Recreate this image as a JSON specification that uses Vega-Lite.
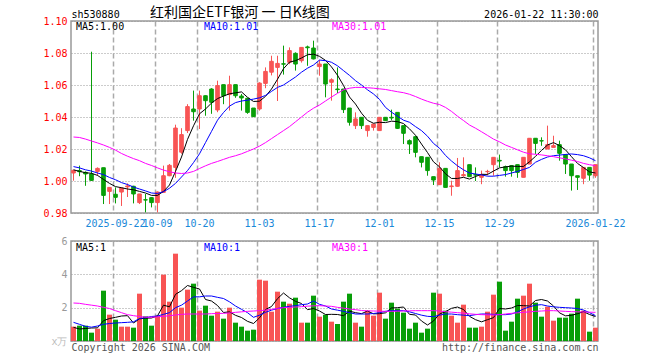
{
"$schema": "https://vega.github.io/schema/vega-lite/v6.json",
"padding": {"left": 42, "top": 5, "right": 0, "bottom": 0},
"bounds": "flush",
"spacing": 28,
"config": {
  "font": "DejaVu Sans Mono",
  "view": {"stroke": "#999999", "strokeWidth": 1.5},
  "axis": {"labelFont": "DejaVu Sans Mono", "titleFont": "DejaVu Sans Mono", "labelFontSize": 10, "titleFontSize": 10, "titleFontWeight": "normal"},
  "legend": {"labelFont": "DejaVu Sans Mono", "labelFontSize": 10}
},
"data": {"values": [
{"d":"2025-09-11","o":1.0050,"h":1.0069,"l":1.0002,"c":1.0067,"m5":1.0070,"m10":1.0090,"m30":1.0275,"v":0.86,"vm5":0.82,"vm10":1.12,"vm30":2.28},
{"d":"2025-09-12","o":1.0065,"h":1.0096,"l":1.0030,"c":1.0058,"m5":1.0060,"m10":1.0082,"m30":1.0272,"v":0.92,"vm5":0.72,"vm10":1.00,"vm30":2.26},
{"d":"2025-09-15","o":1.0054,"h":1.0060,"l":0.9970,"c":1.0044,"m5":1.0052,"m10":1.0070,"m30":1.0262,"v":0.92,"vm5":0.75,"vm10":0.88,"vm30":2.20},
{"d":"2025-09-16","o":1.0044,"h":1.0808,"l":1.0000,"c":1.0004,"m5":1.0048,"m10":1.0062,"m30":1.0250,"v":0.50,"vm5":0.78,"vm10":0.83,"vm30":2.15},
{"d":"2025-09-17","o":1.0060,"h":1.0085,"l":1.0033,"c":1.0079,"m5":1.0035,"m10":1.0050,"m30":1.0238,"v":0.74,"vm5":0.79,"vm10":0.90,"vm30":2.10},
{"d":"2025-09-18","o":1.0083,"h":1.0083,"l":0.9856,"c":0.9910,"m5":1.0010,"m10":1.0040,"m30":1.0225,"v":3.02,"vm5":1.22,"vm10":1.00,"vm30":2.02},
{"d":"2025-09-19","o":0.9935,"h":0.9962,"l":0.9856,"c":0.9960,"m5":0.9985,"m10":1.0022,"m30":1.0210,"v":1.58,"vm5":1.35,"vm10":1.05,"vm30":1.95},
{"d":"2025-09-22","o":0.9917,"h":0.9960,"l":0.9860,"c":0.9898,"m5":0.9965,"m10":1.0008,"m30":1.0193,"v":1.28,"vm5":1.42,"vm10":1.08,"vm30":1.82},
{"d":"2025-09-23","o":0.9931,"h":0.9960,"l":0.9844,"c":0.9956,"m5":0.9958,"m10":0.9990,"m30":1.0172,"v":0.86,"vm5":1.50,"vm10":1.10,"vm30":1.70},
{"d":"2025-09-24","o":0.9963,"h":0.9985,"l":0.9900,"c":0.9969,"m5":0.9950,"m10":0.9978,"m30":1.0155,"v":0.86,"vm5":1.52,"vm10":1.12,"vm30":1.58},
{"d":"2025-09-25","o":0.9967,"h":0.9970,"l":0.9860,"c":0.9919,"m5":0.9945,"m10":0.9962,"m30":1.0140,"v":0.80,"vm5":1.08,"vm10":1.15,"vm30":1.52},
{"d":"2025-09-26","o":0.9865,"h":0.9919,"l":0.9856,"c":0.9919,"m5":0.9935,"m10":0.9950,"m30":1.0127,"v":2.84,"vm5":1.33,"vm10":1.35,"vm30":1.47},
{"d":"2025-09-29","o":0.9883,"h":0.9919,"l":0.9804,"c":0.9881,"m5":0.9925,"m10":0.9938,"m30":1.0110,"v":1.48,"vm5":1.37,"vm10":1.40,"vm30":1.43},
{"d":"2025-09-30","o":0.9896,"h":0.9900,"l":0.9835,"c":0.9865,"m5":0.9910,"m10":0.9925,"m30":1.0097,"v":0.92,"vm5":1.38,"vm10":1.47,"vm30":1.43},
{"d":"2025-10-09","o":0.9865,"h":0.9935,"l":0.9804,"c":0.9931,"m5":0.9910,"m10":0.9922,"m30":1.0082,"v":1.52,"vm5":1.51,"vm10":1.50,"vm30":1.45},
{"d":"2025-10-10","o":0.9929,"h":1.0096,"l":0.9929,"c":1.0033,"m5":0.9935,"m10":0.9933,"m30":1.0068,"v":3.98,"vm5":2.15,"vm10":1.60,"vm30":1.48},
{"d":"2025-10-13","o":1.0033,"h":1.0106,"l":1.0030,"c":1.0098,"m5":0.9975,"m10":0.9955,"m30":1.0058,"v":2.36,"vm5":2.05,"vm10":1.70,"vm30":1.52},
{"d":"2025-10-14","o":1.0085,"h":1.0352,"l":1.0020,"c":1.0331,"m5":1.0060,"m10":0.9985,"m30":1.0050,"v":5.24,"vm5":2.80,"vm10":2.00,"vm30":1.56},
{"d":"2025-10-15","o":1.0180,"h":1.0330,"l":1.0170,"c":1.0290,"m5":1.0150,"m10":1.0025,"m30":1.0047,"v":2.00,"vm5":3.02,"vm10":2.15,"vm30":1.60},
{"d":"2025-10-16","o":1.0315,"h":1.0480,"l":1.0300,"c":1.0465,"m5":1.0260,"m10":1.0065,"m30":1.0050,"v":3.08,"vm5":3.33,"vm10":2.40,"vm30":1.62},
{"d":"2025-10-17","o":1.0450,"h":1.0565,"l":1.0377,"c":1.0433,"m5":1.0345,"m10":1.0115,"m30":1.0060,"v":3.44,"vm5":3.22,"vm10":2.65,"vm30":1.62},
{"d":"2025-10-20","o":1.0450,"h":1.0565,"l":1.0325,"c":1.0533,"m5":1.0420,"m10":1.0170,"m30":1.0078,"v":1.82,"vm5":3.12,"vm10":2.65,"vm30":1.62},
{"d":"2025-10-21","o":1.0533,"h":1.0535,"l":1.0408,"c":1.0502,"m5":1.0450,"m10":1.0240,"m30":1.0095,"v":2.12,"vm5":2.49,"vm10":2.70,"vm30":1.62},
{"d":"2025-10-22","o":1.0575,"h":1.0580,"l":1.0420,"c":1.0492,"m5":1.0487,"m10":1.0310,"m30":1.0110,"v":1.52,"vm5":2.40,"vm10":2.70,"vm30":1.64},
{"d":"2025-10-23","o":1.0444,"h":1.0627,"l":1.0430,"c":1.0596,"m5":1.0515,"m10":1.0380,"m30":1.0122,"v":1.76,"vm5":2.13,"vm10":2.62,"vm30":1.65},
{"d":"2025-10-24","o":1.0602,"h":1.0602,"l":1.0480,"c":1.0533,"m5":1.0531,"m10":1.0428,"m30":1.0135,"v":1.34,"vm5":1.71,"vm10":2.55,"vm30":1.66},
{"d":"2025-10-27","o":1.0540,"h":1.0658,"l":1.0440,"c":1.0602,"m5":1.0545,"m10":1.0468,"m30":1.0148,"v":2.00,"vm5":1.75,"vm10":2.35,"vm30":1.68},
{"d":"2025-10-28","o":1.0602,"h":1.0602,"l":1.0520,"c":1.0533,"m5":1.0551,"m10":1.0490,"m30":1.0158,"v":1.10,"vm5":1.54,"vm10":2.10,"vm30":1.72},
{"d":"2025-10-29","o":1.0531,"h":1.0544,"l":1.0440,"c":1.0519,"m5":1.0557,"m10":1.0500,"m30":1.0170,"v":0.86,"vm5":1.41,"vm10":1.90,"vm30":1.75},
{"d":"2025-10-30","o":1.0517,"h":1.0517,"l":1.0420,"c":1.0429,"m5":1.0523,"m10":1.0505,"m30":1.0185,"v":0.62,"vm5":1.18,"vm10":1.70,"vm30":1.78},
{"d":"2025-10-31","o":1.0456,"h":1.0456,"l":1.0400,"c":1.0402,"m5":1.0497,"m10":1.0512,"m30":1.0200,"v":0.68,"vm5":1.05,"vm10":1.42,"vm30":1.80},
{"d":"2025-11-03","o":1.0450,"h":1.0617,"l":1.0440,"c":1.0612,"m5":1.0499,"m10":1.0520,"m30":1.0218,"v":3.68,"vm5":1.39,"vm10":1.55,"vm30":1.82},
{"d":"2025-11-04","o":1.0610,"h":1.0710,"l":1.0580,"c":1.0685,"m5":1.0529,"m10":1.0535,"m30":1.0240,"v":3.62,"vm5":1.89,"vm10":1.72,"vm30":1.85},
{"d":"2025-11-05","o":1.0680,"h":1.0783,"l":1.0660,"c":1.0748,"m5":1.0575,"m10":1.0560,"m30":1.0265,"v":1.76,"vm5":2.07,"vm10":1.85,"vm30":1.90},
{"d":"2025-11-06","o":1.0710,"h":1.0783,"l":1.0500,"c":1.0735,"m5":1.0636,"m10":1.0585,"m30":1.0290,"v":2.96,"vm5":2.54,"vm10":1.95,"vm30":1.95},
{"d":"2025-11-07","o":1.0733,"h":1.0846,"l":1.0665,"c":1.0730,"m5":1.0702,"m10":1.0600,"m30":1.0315,"v":2.36,"vm5":2.88,"vm10":2.02,"vm30":2.00},
{"d":"2025-11-10","o":1.0742,"h":1.0835,"l":1.0730,"c":1.0815,"m5":1.0743,"m10":1.0625,"m30":1.0340,"v":2.24,"vm5":2.59,"vm10":2.08,"vm30":2.02},
{"d":"2025-11-11","o":1.0798,"h":1.0804,"l":1.0690,"c":1.0731,"m5":1.0752,"m10":1.0650,"m30":1.0370,"v":2.60,"vm5":2.38,"vm10":2.12,"vm30":2.04},
{"d":"2025-11-12","o":1.0752,"h":1.0835,"l":1.0740,"c":1.0835,"m5":1.0769,"m10":1.0680,"m30":1.0400,"v":1.10,"vm5":2.25,"vm10":2.18,"vm30":2.06},
{"d":"2025-11-13","o":1.0838,"h":1.0846,"l":1.0720,"c":1.0833,"m5":1.0789,"m10":1.0705,"m30":1.0430,"v":1.10,"vm5":1.88,"vm10":2.22,"vm30":2.09},
{"d":"2025-11-14","o":1.0831,"h":1.0877,"l":1.0760,"c":1.0763,"m5":1.0793,"m10":1.0725,"m30":1.0455,"v":2.72,"vm5":1.95,"vm10":2.40,"vm30":2.11},
{"d":"2025-11-17","o":1.0715,"h":1.0756,"l":1.0658,"c":1.0731,"m5":1.0779,"m10":1.0756,"m30":1.0475,"v":1.46,"vm5":1.80,"vm10":2.20,"vm30":2.12},
{"d":"2025-11-18","o":1.0731,"h":1.0731,"l":1.0523,"c":1.0606,"m5":1.0754,"m10":1.0752,"m30":1.0500,"v":1.58,"vm5":1.59,"vm10":2.10,"vm30":2.10},
{"d":"2025-11-19","o":1.0617,"h":1.0642,"l":1.0502,"c":1.0633,"m5":1.0713,"m10":1.0742,"m30":1.0525,"v":1.16,"vm5":1.60,"vm10":1.92,"vm30":2.08},
{"d":"2025-11-20","o":1.0575,"h":1.0710,"l":1.0550,"c":1.0571,"m5":1.0661,"m10":1.0720,"m30":1.0548,"v":1.02,"vm5":1.59,"vm10":1.85,"vm30":2.02},
{"d":"2025-11-21","o":1.0575,"h":1.0575,"l":1.0425,"c":1.0446,"m5":1.0597,"m10":1.0690,"m30":1.0570,"v":2.36,"vm5":1.52,"vm10":1.78,"vm30":1.97},
{"d":"2025-11-24","o":1.0456,"h":1.0456,"l":1.0346,"c":1.0367,"m5":1.0525,"m10":1.0660,"m30":1.0580,"v":2.84,"vm5":1.79,"vm10":1.70,"vm30":1.92},
{"d":"2025-11-25","o":1.0346,"h":1.0429,"l":1.0325,"c":1.0388,"m5":1.0481,"m10":1.0627,"m30":1.0585,"v":1.10,"vm5":1.70,"vm10":1.62,"vm30":1.88},
{"d":"2025-11-26","o":1.0398,"h":1.0398,"l":1.0325,"c":1.0346,"m5":1.0424,"m10":1.0600,"m30":1.0585,"v":0.86,"vm5":1.64,"vm10":1.62,"vm30":1.83},
{"d":"2025-11-27","o":1.0315,"h":1.0346,"l":1.0277,"c":1.0346,"m5":1.0379,"m10":1.0570,"m30":1.0583,"v":1.82,"vm5":1.80,"vm10":1.62,"vm30":1.81},
{"d":"2025-11-28","o":1.0335,"h":1.0356,"l":1.0315,"c":1.0356,"m5":1.0361,"m10":1.0544,"m30":1.0580,"v":1.52,"vm5":1.63,"vm10":1.65,"vm30":1.80},
{"d":"2025-12-01","o":1.0315,"h":1.0398,"l":1.0315,"c":1.0398,"m5":1.0367,"m10":1.0510,"m30":1.0576,"v":2.90,"vm5":1.64,"vm10":1.70,"vm30":1.79},
{"d":"2025-12-02","o":1.0398,"h":1.0400,"l":1.0377,"c":1.0377,"m5":1.0365,"m10":1.0460,"m30":1.0572,"v":1.34,"vm5":1.69,"vm10":1.78,"vm30":1.78},
{"d":"2025-12-03","o":1.0398,"h":1.0446,"l":1.0380,"c":1.0394,"m5":1.0374,"m10":1.0430,"m30":1.0565,"v":2.30,"vm5":1.98,"vm10":1.82,"vm30":1.78},
{"d":"2025-12-04","o":1.0429,"h":1.0429,"l":1.0325,"c":1.0329,"m5":1.0371,"m10":1.0405,"m30":1.0558,"v":1.94,"vm5":2.00,"vm10":1.82,"vm30":1.79},
{"d":"2025-12-05","o":1.0346,"h":1.0346,"l":1.0231,"c":1.0298,"m5":1.0359,"m10":1.0380,"m30":1.0552,"v":1.70,"vm5":2.04,"vm10":1.82,"vm30":1.80},
{"d":"2025-12-08","o":1.0252,"h":1.0260,"l":1.0169,"c":1.0231,"m5":1.0326,"m10":1.0367,"m30":1.0542,"v":0.74,"vm5":1.60,"vm10":1.75,"vm30":1.81},
{"d":"2025-12-09","o":1.0277,"h":1.0277,"l":1.0148,"c":1.0179,"m5":1.0286,"m10":1.0340,"m30":1.0528,"v":1.10,"vm5":1.56,"vm10":1.65,"vm30":1.82},
{"d":"2025-12-10","o":1.0152,"h":1.0152,"l":1.0085,"c":1.0117,"m5":1.0231,"m10":1.0315,"m30":1.0512,"v":0.50,"vm5":1.20,"vm10":1.55,"vm30":1.82},
{"d":"2025-12-11","o":1.0148,"h":1.0148,"l":1.0033,"c":1.0065,"m5":1.0178,"m10":1.0280,"m30":1.0498,"v":0.74,"vm5":0.96,"vm10":1.48,"vm30":1.82},
{"d":"2025-12-12","o":1.0027,"h":1.0027,"l":0.9975,"c":1.0006,"m5":1.0120,"m10":1.0235,"m30":1.0486,"v":2.90,"vm5":1.20,"vm10":1.46,"vm30":1.82},
{"d":"2025-12-15","o":0.9977,"h":1.0117,"l":0.9975,"c":1.0079,"m5":1.0089,"m10":1.0205,"m30":1.0478,"v":2.84,"vm5":1.62,"vm10":1.55,"vm30":1.80},
{"d":"2025-12-16","o":1.0079,"h":1.0079,"l":0.9960,"c":0.9960,"m5":1.0045,"m10":1.0160,"m30":1.0460,"v":1.82,"vm5":1.76,"vm10":1.62,"vm30":1.76},
{"d":"2025-12-17","o":0.9965,"h":1.0002,"l":0.9908,"c":0.9969,"m5":1.0016,"m10":1.0125,"m30":1.0435,"v":1.52,"vm5":1.96,"vm10":1.62,"vm30":1.73},
{"d":"2025-12-18","o":0.9967,"h":1.0144,"l":0.9965,"c":1.0065,"m5":1.0016,"m10":1.0095,"m30":1.0405,"v":1.10,"vm5":2.04,"vm10":1.58,"vm30":1.70},
{"d":"2025-12-19","o":1.0033,"h":1.0148,"l":1.0027,"c":1.0040,"m5":1.0023,"m10":1.0070,"m30":1.0378,"v":2.18,"vm5":1.89,"vm10":1.55,"vm30":1.67},
{"d":"2025-12-22","o":1.0102,"h":1.0102,"l":1.0027,"c":1.0027,"m5":1.0012,"m10":1.0050,"m30":1.0350,"v":0.80,"vm5":1.48,"vm10":1.52,"vm30":1.63},
{"d":"2025-12-23","o":1.0040,"h":1.0085,"l":1.0000,"c":1.0037,"m5":1.0028,"m10":1.0044,"m30":1.0330,"v":0.80,"vm5":1.28,"vm10":1.58,"vm30":1.60},
{"d":"2025-12-24","o":1.0023,"h":1.0065,"l":0.9980,"c":1.0040,"m5":1.0042,"m10":1.0038,"m30":1.0308,"v":0.86,"vm5":1.15,"vm10":1.62,"vm30":1.58},
{"d":"2025-12-25","o":1.0058,"h":1.0070,"l":1.0035,"c":1.0060,"m5":1.0041,"m10":1.0030,"m30":1.0285,"v":1.76,"vm5":1.28,"vm10":1.62,"vm30":1.57},
{"d":"2025-12-26","o":1.0102,"h":1.0148,"l":1.0033,"c":1.0148,"m5":1.0062,"m10":1.0030,"m30":1.0262,"v":2.78,"vm5":1.40,"vm10":1.60,"vm30":1.56},
{"d":"2025-12-29","o":1.0129,"h":1.0165,"l":1.0085,"c":1.0125,"m5":1.0082,"m10":1.0035,"m30":1.0245,"v":3.56,"vm5":1.95,"vm10":1.58,"vm30":1.58},
{"d":"2025-12-30","o":1.0090,"h":1.0096,"l":1.0027,"c":1.0065,"m5":1.0088,"m10":1.0040,"m30":1.0225,"v":0.62,"vm5":1.92,"vm10":1.58,"vm30":1.62},
{"d":"2025-12-31","o":1.0096,"h":1.0096,"l":1.0027,"c":1.0065,"m5":1.0093,"m10":1.0050,"m30":1.0210,"v":1.16,"vm5":1.98,"vm10":1.62,"vm30":1.66},
{"d":"2026-01-05","o":1.0102,"h":1.0102,"l":1.0020,"c":1.0054,"m5":1.0091,"m10":1.0060,"m30":1.0195,"v":2.54,"vm5":2.13,"vm10":1.75,"vm30":1.69},
{"d":"2026-01-06","o":1.0023,"h":1.0148,"l":1.0023,"c":1.0148,"m5":1.0091,"m10":1.0072,"m30":1.0180,"v":2.72,"vm5":2.12,"vm10":1.92,"vm30":1.72},
{"d":"2026-01-07","o":1.0106,"h":1.0267,"l":1.0106,"c":1.0267,"m5":1.0120,"m10":1.0085,"m30":1.0170,"v":3.44,"vm5":2.10,"vm10":2.05,"vm30":1.75},
{"d":"2026-01-08","o":1.0267,"h":1.0267,"l":1.0169,"c":1.0235,"m5":1.0154,"m10":1.0117,"m30":1.0167,"v":2.30,"vm5":2.43,"vm10":2.15,"vm30":1.78},
{"d":"2026-01-09","o":1.0252,"h":1.0273,"l":1.0220,"c":1.0250,"m5":1.0191,"m10":1.0135,"m30":1.0163,"v":1.46,"vm5":2.49,"vm10":2.18,"vm30":1.80},
{"d":"2026-01-12","o":1.0200,"h":1.0346,"l":1.0200,"c":1.0227,"m5":1.0225,"m10":1.0150,"m30":1.0158,"v":2.06,"vm5":2.40,"vm10":2.10,"vm30":1.82},
{"d":"2026-01-13","o":1.0210,"h":1.0283,"l":1.0210,"c":1.0221,"m5":1.0240,"m10":1.0158,"m30":1.0152,"v":1.22,"vm5":2.10,"vm10":2.05,"vm30":1.82},
{"d":"2026-01-14","o":1.0227,"h":1.0252,"l":1.0127,"c":1.0173,"m5":1.0221,"m10":1.0162,"m30":1.0145,"v":1.40,"vm5":1.69,"vm10":2.02,"vm30":1.80},
{"d":"2026-01-15","o":1.0165,"h":1.0165,"l":1.0044,"c":1.0106,"m5":1.0195,"m10":1.0166,"m30":1.0138,"v":1.40,"vm5":1.51,"vm10":2.00,"vm30":1.78},
{"d":"2026-01-16","o":1.0106,"h":1.0106,"l":0.9940,"c":1.0033,"m5":1.0152,"m10":1.0169,"m30":1.0130,"v":1.64,"vm5":1.54,"vm10":1.98,"vm30":1.76},
{"d":"2026-01-19","o":1.0033,"h":1.0033,"l":0.9944,"c":1.0023,"m5":1.0110,"m10":1.0165,"m30":1.0122,"v":2.54,"vm5":1.64,"vm10":1.95,"vm30":1.75},
{"d":"2026-01-20","o":1.0017,"h":1.0085,"l":0.9980,"c":1.0085,"m5":1.0084,"m10":1.0158,"m30":1.0110,"v":1.82,"vm5":1.76,"vm10":1.86,"vm30":1.74},
{"d":"2026-01-21","o":1.0085,"h":1.0085,"l":1.0002,"c":1.0037,"m5":1.0057,"m10":1.0145,"m30":1.0102,"v":0.56,"vm5":1.59,"vm10":1.70,"vm30":1.73},
{"d":"2026-01-22","o":1.0033,"h":1.0102,"l":1.0020,"c":1.0102,"m5":1.0050,"m10":1.0127,"m30":1.0096,"v":0.80,"vm5":1.47,"vm10":1.52,"vm30":1.72}
]},
"resolve": {"scale": {"color": "independent"}},
"vconcat": [
{
  "width": 527,
  "height": 192,
  "title": {"text": "红利国企ETF银河 一 日K线图", "anchor": "start", "frame": "group", "dx": 79, "dy": 11, "offset": 0, "font": "Noto Sans CJK SC", "fontSize": 14, "fontWeight": "normal", "color": "#000000"},
  "resolve": {"axis": {"y": "independent"}},
  "encoding": {
    "x": {"field": "d", "type": "ordinal", "sort": null,
      "scale": {"type": "band", "paddingInner": 0.4, "paddingOuter": 0.117},
      "axis": {"values": ["2025-09-22","2025-10-09","2025-10-20","2025-11-03","2025-11-17","2025-12-01","2025-12-15","2025-12-29","2026-01-22"],
        "labelExpr": "(datum.value == '2025-09-22' || datum.value == '2026-01-22') ? datum.value : slice(datum.value, 5)",
        "bandPosition": 0, "grid": true, "gridDash": [5, 3], "gridColor": "#aaaaaa", "gridWidth": 1.5,
        "ticks": false, "tickSize": 0, "domain": false, "labelAngle": 0, "labelPadding": 5,
        "labelOverlap": false, "labelFlush": false, "labelBound": false, "labelColor": "#1a88d8", "title": null}}
  },
  "layer": [
    {"mark": {"type": "rule", "strokeWidth": 1},
     "encoding": {
       "y": {"field": "l", "type": "quantitative", "scale": {"domain": [0.98, 1.10], "nice": false, "zero": false},
         "axis": {"values": [0.98, 1.0, 1.02, 1.04, 1.06, 1.08, 1.1], "format": ".2f", "labelColor": "#ff0000",
           "labelPadding": 4, "ticks": false, "tickSize": 0, "domain": false, "grid": true, "gridDash": [1, 2], "gridColor": "#999999",
           "title": "sh530880", "titleAngle": 0, "titleAlign": "left", "titleBaseline": "alphabetic", "titleX": 0, "titleY": -4, "titleColor": "#000000"}},
       "y2": {"field": "h"},
       "color": {"condition": {"test": "datum.c >= datum.o", "value": "#f85454"}, "value": "#089e08"}
     }},
    {"mark": {"type": "bar", "strokeWidth": 1},
     "encoding": {
       "y": {"field": "o", "type": "quantitative", "axis": null},
       "y2": {"field": "c"},
       "color": {"condition": {"test": "datum.c >= datum.o", "value": "#f85454"}, "value": "#089e08"},
       "stroke": {"condition": {"test": "datum.c >= datum.o", "value": "#f85454"}, "value": "#089e08"}
     }},
    {"transform": [{"fold": ["m5", "m10", "m30"], "as": ["k", "val"]}],
     "mark": {"type": "line", "strokeWidth": 1},
     "encoding": {
       "y": {"field": "val", "type": "quantitative",
         "axis": {"orient": "right", "labels": false, "ticks": false, "domain": false, "grid": false,
           "title": "2026-01-22 11:30:00", "titleAngle": 0, "titleAlign": "right", "titleBaseline": "alphabetic", "titleX": 0, "titleY": -4, "titleColor": "#000000"}},
       "color": {"field": "k", "type": "nominal",
         "scale": {"domain": ["m5", "m10", "m30"], "range": ["#000000", "#0000ff", "#ff00ff"]},
         "legend": {"orient": "none", "legendX": -5, "legendY": 1, "direction": "horizontal", "title": null,
           "symbolSize": 0, "symbolStrokeWidth": 0, "symbolOpacity": 0, "labelOffset": 0, "columnPadding": 63, "gridAlign": "all", "padding": 0, "labelLimit": 0,
           "labelExpr": "datum.value == 'm5' ? 'MA5:1.00' : (datum.value == 'm10' ? 'MA10:1.01' : 'MA30:1.01')",
           "encode": {"labels": {"update": {"fill": [{"test": "datum.value === 'm5'", "value": "#000000"}, {"test": "datum.value === 'm10'", "value": "#0000ff"}, {"value": "#ff00ff"}]}}}}}
     }}
  ]
},
{
  "width": 527,
  "height": 100,
  "resolve": {"axis": {"y": "independent"}},
  "encoding": {
    "x": {"field": "d", "type": "ordinal", "sort": null,
      "scale": {"type": "band", "paddingInner": 0.1667, "paddingOuter": 0},
      "axis": {"values": ["2025-09-22","2025-10-09","2025-10-20","2025-11-03","2025-11-17","2025-12-01","2025-12-15","2025-12-29","2026-01-22"],
        "bandPosition": 0, "grid": true, "gridDash": [5, 3], "gridColor": "#aaaaaa", "gridWidth": 1.5,
        "labels": false, "ticks": false, "tickSize": 0, "domain": false,
        "title": "Copyright 2026 SINA.COM", "titleAnchor": "start", "titleAlign": "left", "titleBaseline": "top", "titleX": 0, "titleY": 1, "titleColor": "#555555"}}
  },
  "layer": [
    {"mark": {"type": "bar"},
     "encoding": {
       "y": {"field": "v", "type": "quantitative", "scale": {"domain": [0, 6], "nice": false},
         "axis": {"values": [0, 2, 4, 6], "labelExpr": "datum.value == 0 ? 'x万' : datum.label",
           "labelColor": {"condition": {"test": "datum.value == 0", "value": "#bbbbbb"}, "value": "#999999"},
           "labelPadding": 4, "ticks": false, "tickSize": 0, "domain": false, "grid": true, "gridDash": [1, 2], "gridColor": "#999999", "title": null}},
       "color": {"condition": {"test": "datum.c >= datum.o", "value": "#f85454"}, "value": "#089e08"}
     }},
    {"transform": [{"fold": ["vm5", "vm10", "vm30"], "as": ["k", "val"]}],
     "mark": {"type": "line", "strokeWidth": 1},
     "encoding": {
       "y": {"field": "val", "type": "quantitative",
         "axis": {"orient": "right", "labels": false, "ticks": false, "domain": false, "grid": false,
           "title": "http://finance.sina.com.cn", "titleAngle": 0, "titleAlign": "right", "titleBaseline": "top", "titleX": 0, "titleY": 101, "titleColor": "#555555"}},
       "color": {"field": "k", "type": "nominal",
         "scale": {"domain": ["vm5", "vm10", "vm30"], "range": ["#000000", "#0000ff", "#ff00ff"]},
         "legend": {"orient": "none", "legendX": -5, "legendY": 1.5, "direction": "horizontal", "title": null,
           "symbolSize": 0, "symbolStrokeWidth": 0, "symbolOpacity": 0, "labelOffset": 0, "columnPadding": 81, "gridAlign": "all", "padding": 0, "labelLimit": 0,
           "labelExpr": "datum.value == 'vm5' ? 'MA5:1' : (datum.value == 'vm10' ? 'MA10:1' : 'MA30:1')",
           "encode": {"labels": {"update": {"fill": [{"test": "datum.value === 'vm5'", "value": "#000000"}, {"test": "datum.value === 'vm10'", "value": "#0000ff"}, {"value": "#ff00ff"}]}}}}}
     }}
  ]
}
]
}
